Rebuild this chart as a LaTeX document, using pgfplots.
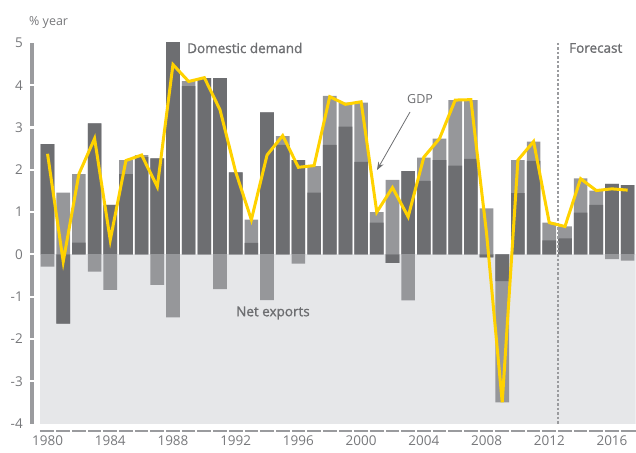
\documentclass[border=0pt]{standalone}
\usepackage{pgfplots}
\pgfplotsset{compat=1.18}
\usepackage{pgfplotstable}
\usetikzlibrary{arrows.meta}
\usepackage{fontspec}
\setmainfont{Open Sans}
\newfontfamily\semib[FakeBold=1.2]{Open Sans}
\definecolor{darkbar}{HTML}{6D6E71}
\definecolor{lightbar}{HTML}{96979A}
\definecolor{bggrey}{HTML}{E6E7E9}
\definecolor{gdpyellow}{HTML}{FFD200}
\definecolor{txt}{HTML}{6D6E71}
\definecolor{ticktxt}{HTML}{77787B}
\definecolor{axisgrey}{HTML}{9A9B9E}

% ptop: top of positive stack (domestic demand + net exports, positive parts)
% pdd : positive domestic demand
% ntop: bottom of negative stack
% ndd : negative domestic demand
\pgfplotstableread{
year ptop pdd ntop ndd gdp
1980 2.61 2.61 -0.29 0 2.38
1981 1.46 0 -1.64 -1.64 -0.17
1982 1.90 0.28 0 0 1.90
1983 3.10 3.10 -0.41 0 2.74
1984 1.17 1.17 -0.84 0 0.34
1985 2.23 1.90 0 0 2.22
1986 2.35 2.30 0 0 2.35
1987 2.27 2.27 -0.72 0 1.60
1988 6.00 6.00 -1.49 0 4.49
1989 4.10 3.98 0 0 4.09
1990 4.17 4.17 0 0 4.18
1991 4.17 4.17 -0.82 0 3.42
1992 1.94 1.94 0 0 1.95
1993 0.82 0.27 0 0 0.82
1994 3.36 3.36 -1.08 0 2.35
1995 2.80 2.59 0 0 2.81
1996 2.23 2.23 -0.22 0 2.06
1997 2.09 1.46 0 0 2.10
1998 3.75 2.59 0 0 3.73
1999 3.59 3.02 0 0 3.55
2000 3.59 2.19 0 0 3.61
2001 1.00 0.75 0 0 1.00
2002 1.76 0 -0.20 -0.20 1.58
2003 1.97 1.97 -1.09 0 0.89
2004 2.29 1.74 0 0 2.30
2005 2.74 2.23 0 0 2.74
2006 3.65 2.10 0 0 3.65
2007 3.65 2.26 0 0 3.66
2008 1.09 0 -0.07 -0.07 0.50
2009 0 0 -3.50 -0.63 -3.50
2010 2.23 1.45 0 0 2.23
2011 2.67 2.21 0 0 2.67
2012 0.75 0.33 0 0 0.75
2013 0.66 0.38 0 0 0.66
2014 1.80 0.99 0 0 1.79
2015 1.51 1.17 0 0 1.51
2016 1.67 1.67 -0.11 0 1.55
2017 1.64 1.64 -0.15 0 1.52
}\data

\begin{document}
\begin{tikzpicture}[x=1pt,y=1pt]
\useasboundingbox (0,0) rectangle (636,452);
\begin{axis}[
  at={(39.7pt,28.5pt)}, anchor=south west,
  scale only axis, width=595.8pt, height=380.5pt,
  xmin=1979.5, xmax=2017.5, ymin=-4, ymax=5,
  axis line style={draw=none}, major tick length=0pt,
  xtick={1980,1984,...,2016}, ytick={-4,-3,...,5},
  /pgf/number format/assume math mode=true,
  xticklabel style={/pgf/number format/1000 sep=, inner sep=0pt, anchor=north, yshift=-12pt,
     font=\fontsize{13.5}{14}\selectfont, text=ticktxt},
  yticklabel style={inner sep=0pt, anchor=east, xshift=-16.7pt,
     font=\fontsize{13.5}{14}\selectfont, text=ticktxt},
]
\fill[bggrey] (axis cs:1979.5,-4) rectangle (axis cs:2017.5,0);
\addplot[ybar, bar width=0.87, bar shift=0, fill=lightbar, draw=none] table[x=year,y=ptop]{\data};
\addplot[ybar, bar width=0.87, bar shift=0, fill=darkbar, draw=none] table[x=year,y=pdd]{\data};
\addplot[ybar, bar width=0.87, bar shift=0, fill=lightbar, draw=none] table[x=year,y=ntop]{\data};
\addplot[ybar, bar width=0.87, bar shift=0, fill=darkbar, draw=none] table[x=year,y=ndd]{\data};
\draw[axisgrey, line width=1.5pt, dash pattern=on 2.5pt off 2pt] (axis cs:2012.56,5) -- (axis cs:2012.56,-4);
\addplot[gdpyellow, line width=3pt, mark=none] table[x=year,y=gdp]{\data};
\end{axis}
% y axis line with white gaps at ticks
\draw[axisgrey, line width=3.5pt] (32,28.5) -- (32,408.8);
\foreach \k in {1,...,8} {
  \draw[white, line width=2.2pt] (29,28.5+\k*42.278) -- (35,28.5+\k*42.278);
}
% x axis line with white gaps between bars
\draw[axisgrey, line width=2pt] (39.7,21) -- (635.5,21);
\foreach \i in {1,...,37} {
  \draw[white, line width=2pt] (39.7+\i*15.679,18) -- (39.7+\i*15.679,24);
}
% labels
\node[anchor=west, inner sep=0pt, text=ticktxt, font=\fontsize{12.5}{13}\selectfont] at (29,430) {\% year};
\node[anchor=west, inner sep=0pt, text=txt, font=\semib\fontsize{13.5}{14}\selectfont] at (187,404) {Domestic demand};
\node[anchor=west, inner sep=0pt, text=txt, font=\semib\fontsize{13.5}{14}\selectfont] at (236,139) {Net exports};
\node[anchor=west, inner sep=0pt, text=txt, font=\semib\fontsize{13.5}{14}\selectfont] at (569,404) {Forecast};
\node[anchor=west, inner sep=0pt, text=txt, font=\fontsize{12.5}{13}\selectfont] at (407,352.5) {GDP};
\draw[txt, line width=0.8pt, -{Stealth[length=8pt,width=6pt]}] (410,340) -- (377,282);
\end{tikzpicture}
\end{document}
